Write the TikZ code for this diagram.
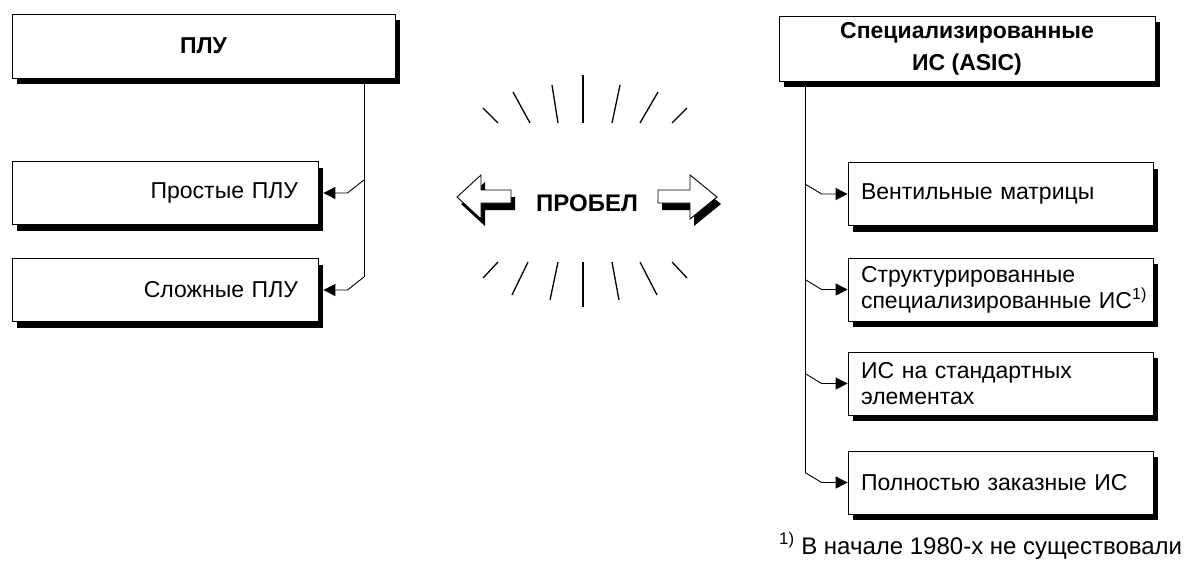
\documentclass[tikz,border=0pt]{standalone}
\usepackage{fontspec}
\setmainfont{Liberation Sans}
\usetikzlibrary{arrows.meta,shadows}

\tikzset{
  box/.style={draw=black, line width=0.8pt, fill=white, rectangle, inner ysep=0pt,
    drop shadow={shadow xshift=5pt, shadow yshift=-6pt, fill=black, opacity=1}},
  leftbox/.style={box, minimum width=306pt, minimum height=63pt,
    text width=266pt, inner xsep=20pt, align=right},
  rightbox/.style={box, minimum width=305pt, minimum height=63pt,
    text width=279pt, inner xsep=13pt, align=left},
  title/.style={box, font=\bfseries\fontsize{23}{32}\selectfont, align=center},
  bus/.style={line width=0.9pt},
  conn/.style={line width=0.9pt, -{Triangle[length=12pt,width=12pt]}},
  ray/.style={line width=1.3pt},
  fatarrow/.style={draw=black, fill=white, line width=0.9pt, line join=miter},
}

\begin{document}
\begin{tikzpicture}[x=1pt, y=-1pt, font=\fontsize{23}{26}\selectfont]
\useasboundingbox (0,0) rectangle (1190,573);

% Left tree
\node[title, minimum width=383pt, minimum height=64pt] (plu) at (203.5,46) {ПЛУ};
\node[leftbox] (simple) at (165,193) {Простые ПЛУ};
\node[leftbox] (complex) at (165,290) {Сложные ПЛУ};

\coordinate (lbus) at (364,0);
\draw[bus] (plu.south -| lbus) -- ([yshift=13pt]complex.east -| lbus);
\foreach \n in {simple,complex}
  \draw[conn] ([yshift=13pt]\n.east -| lbus) -- ([xshift=29pt]\n.east) -- ([xshift=5pt]\n.east);

% Right tree
\node[title, minimum width=376pt, minimum height=65pt] (asic) at (967,48.5)
  {Специализированные\\ИС (ASIC)};
\node[rightbox] (gate) at (1000.5,194) {Вентильные матрицы};
\node[rightbox] (struct) at (1000.5,289.5)
  {Структурированные\\специализированные~ИС\textsuperscript{1)}};
\node[rightbox] (cell) at (1000.5,383.5) {ИС на стандартных\\элементах};
\node[rightbox] (full) at (1000.5,482.5) {Полностью заказные ИС};

\coordinate (rbus) at (805,0);
\draw[bus] (asic.south -| rbus) -- ([yshift=10pt]full.west -| rbus);
\foreach \n in {gate,struct,cell,full}
  \draw[conn] ([yshift=10pt]\n.west -| rbus) -- ([xshift=-26pt]\n.west) -- (\n.west);

% Gap in the middle
\node[font=\bfseries\fontsize{24}{26}\selectfont] (gap) at (587,203) {ПРОБЕЛ};

\fill[shift={(4,7)}] (457,197) -- (481,175) -- (481,190) -- (511,190) -- (511,203)
  -- (481,203) -- (481,219) -- cycle;
\draw[fatarrow] (457,197) -- (481,175) -- (481,190) -- (511,190) -- (511,203)
  -- (481,203) -- (481,219) -- cycle;
\fill[shift={(4,7)}] (717,197) -- (690,175) -- (690,190) -- (658,190) -- (658,203)
  -- (690,203) -- (690,219) -- cycle;
\draw[fatarrow] (717,197) -- (690,175) -- (690,190) -- (658,190) -- (658,203)
  -- (690,203) -- (690,219) -- cycle;

% Rays
\foreach \xa/\ya/\xb/\yb in {483/108/498/123, 513/92/530/123, 552/85/558/123,
    583/75/583/123, 620/85/612/123, 658/92/640/123, 687/108/672/123,
    483/278/498/262, 512/295/528/262, 550/300/558/262, 583/307/583/262,
    619/300/612/262, 657/295/640/262, 687/278/672/262}
  \draw[ray] (\xa,\ya) -- (\xb,\yb);

% Footnote
\node[anchor=base west, inner sep=0pt, font=\fontsize{24}{26}\selectfont] (note) at (779,554)
  {\textsuperscript{1)} В начале 1980-х не существовали};
\end{tikzpicture}
\end{document}
